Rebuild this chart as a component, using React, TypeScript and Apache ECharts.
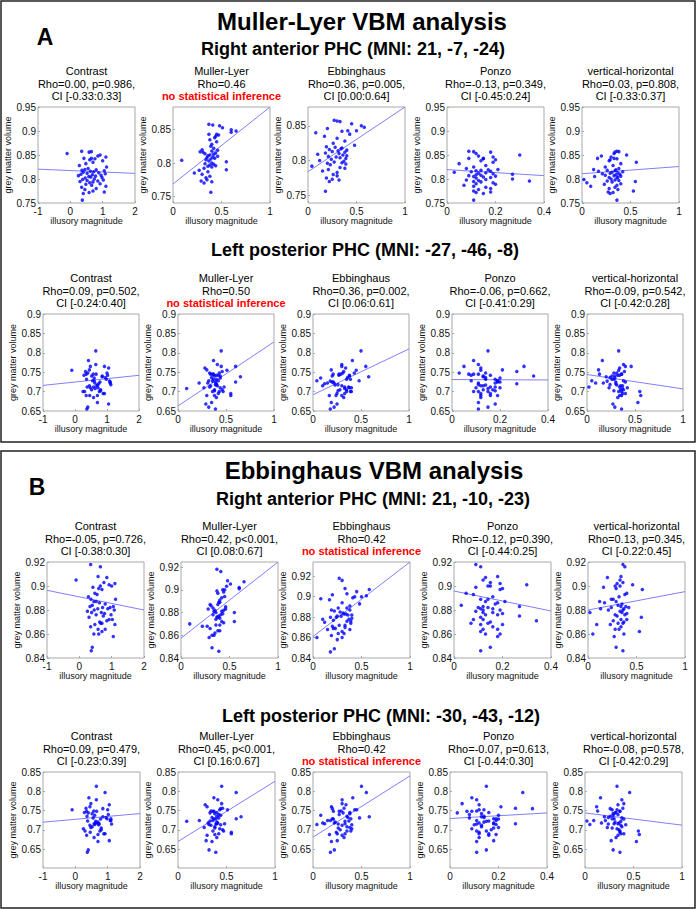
import React, { useEffect, useRef } from "react";
import * as echarts from "echarts";

// ---------- DATA ----------
const illusionNames = ["Contrast", "Muller-Lyer", "Ebbinghaus", "Ponzo", "vertical-horizontal"];

// illusory magnitude per subject, one array per illusion
const xContrast = [0.35, 0.65, 0.58, -0.10, 0.92, 0.85, 1.10, 0.42, 0.76, 0.60, 1.00, 0.70, 0.48, 0.28, 1.12, 0.55, 0.45, 0.80, 0.36, 1.05, 0.62, 0.72, 0.40, 0.88, 0.52, 1.08, 0.33, 0.68, 0.95, 0.25, 0.78, 0.57, 0.63, 0.98, 0.46, 0.74, 0.38, 1.02, 0.52, 0.85, 0.30, 0.70, 0.60, 0.92, 0.48, 0.66, 1.10, 0.35, 0.80, 0.45, 0.70, 1.05, 0.58, 0.40, 0.37, 0.65];
const xMullerLyer = [0.37, 0.41, 0.48, 0.51, 0.60, 0.65, 0.60, 0.37, 0.47, 0.44, 0.43, 0.38, 0.45, 0.40, 0.39, 0.42, 0.30, 0.46, 0.40, 0.28, 0.31, 0.44, 0.33, 0.42, 0.38, 0.36, 0.46, 0.41, 0.35, 0.43, 0.39, 0.34, 0.09, 0.37, 0.55, 0.40, 0.33, 0.42, 0.38, 0.44, 0.36, 0.40, 0.32, 0.55, 0.27, 0.36, 0.22, 0.30, 0.38, 0.34, 0.35, 0.29, 0.40, 0.32, 0.39, 0.45];
const xEbbinghaus = [0.27, 0.30, 0.33, 0.45, 0.55, 0.58, 0.20, 0.41, 0.35, 0.08, 0.43, 0.17, 0.30, 0.38, 0.26, 0.48, 0.19, 0.28, 0.35, 0.34, 0.22, 0.40, 0.31, 0.25, 0.38, 0.18, 0.32, 0.10, 0.36, 0.40, 0.21, 0.29, 0.33, 0.39, 0.24, 0.12, 0.37, 0.27, 0.35, 0.20, 0.39, 0.23, 0.04, 0.33, 0.38, 0.21, 0.15, 0.30, 0.26, 0.30, 0.19, 0.25, 0.32, 0.22, 0.18, 0.50];
const xPonzo = [0.09, 0.11, 0.18, 0.12, 0.30, 0.13, 0.19, 0.09, 0.15, 0.20, 0.14, 0.19, 0.05, 0.16, 0.11, 0.08, 0.21, 0.17, 0.14, 0.12, 0.18, 0.10, 0.03, 0.16, 0.13, 0.19, 0.27, 0.12, 0.14, 0.09, 0.20, 0.11, 0.15, 0.18, 0.12, 0.27, 0.16, 0.08, 0.13, 0.34, 0.11, 0.14, 0.19, 0.12, 0.20, 0.07, 0.11, 0.16, 0.18, 0.13, 0.11, 0.18, 0.12, 0.15, 0.11, 0.15];
const xVerticalHorizontal = [0.36, 0.38, 0.34, 0.33, 0.46, 0.20, 0.30, 0.16, 0.36, 0.29, 0.28, 0.56, 0.40, 0.32, 0.24, 0.38, 0.12, 0.35, 0.26, 0.34, 0.17, 0.42, 0.31, 0.37, 0.29, 0.21, 0.39, 0.35, 0.24, 0.33, 0.40, 0.13, 0.37, 0.28, 0.36, 0.30, 0.02, 0.34, 0.38, 0.26, 0.55, 0.31, 0.05, 0.40, 0.23, 0.36, 0.09, 0.34, 0.28, 0.37, 0.53, 0.27, 0.32, 0.29, 0.36, 0.33];

// grey matter volume per subject, one array per region
const yRightAnteriorA = [0.858, 0.857, 0.856, 0.853, 0.850, 0.848, 0.846, 0.843, 0.842, 0.840, 0.838, 0.835, 0.832, 0.828, 0.825, 0.822, 0.820, 0.819, 0.818, 0.817, 0.816, 0.815, 0.814, 0.813, 0.812, 0.811, 0.810, 0.809, 0.808, 0.807, 0.806, 0.805, 0.804, 0.803, 0.802, 0.800, 0.799, 0.798, 0.797, 0.796, 0.795, 0.794, 0.792, 0.790, 0.789, 0.787, 0.785, 0.783, 0.780, 0.778, 0.775, 0.773, 0.772, 0.770, 0.756, 0.843];
const yLeftPosteriorA = [0.745, 0.770, 0.712, 0.755, 0.765, 0.738, 0.725, 0.780, 0.700, 0.735, 0.748, 0.690, 0.765, 0.742, 0.718, 0.728, 0.756, 0.705, 0.732, 0.761, 0.722, 0.710, 0.748, 0.695, 0.740, 0.727, 0.752, 0.715, 0.736, 0.700, 0.725, 0.745, 0.708, 0.732, 0.690, 0.720, 0.712, 0.742, 0.705, 0.740, 0.700, 0.717, 0.728, 0.695, 0.710, 0.745, 0.722, 0.690, 0.702, 0.715, 0.672, 0.668, 0.685, 0.660, 0.655, 0.805];
const yRightAnteriorB = [0.918, 0.916, 0.908, 0.905, 0.901, 0.907, 0.902, 0.899, 0.903, 0.898, 0.900, 0.897, 0.894, 0.891, 0.889, 0.893, 0.887, 0.885, 0.889, 0.883, 0.886, 0.882, 0.884, 0.881, 0.887, 0.880, 0.883, 0.878, 0.882, 0.879, 0.877, 0.881, 0.870, 0.876, 0.880, 0.875, 0.878, 0.872, 0.876, 0.871, 0.874, 0.869, 0.860, 0.872, 0.868, 0.869, 0.868, 0.866, 0.864, 0.860, 0.862, 0.858, 0.864, 0.849, 0.846, 0.900];
const yLeftPosteriorB = [0.748, 0.778, 0.716, 0.752, 0.797, 0.734, 0.729, 0.783, 0.697, 0.738, 0.752, 0.688, 0.768, 0.745, 0.715, 0.731, 0.760, 0.700, 0.735, 0.765, 0.718, 0.713, 0.744, 0.690, 0.742, 0.724, 0.756, 0.718, 0.732, 0.703, 0.728, 0.749, 0.722, 0.729, 0.694, 0.716, 0.723, 0.740, 0.708, 0.755, 0.697, 0.720, 0.714, 0.690, 0.706, 0.748, 0.724, 0.686, 0.705, 0.712, 0.670, 0.672, 0.680, 0.648, 0.642, 0.813];

// axis ranges and tick labels
const xRanges = [[-1, 2], [0, 1], [0, 1], [0, 0.4], [0, 1]];
const xTickValues = [[-1, 0, 1, 2], [0, 0.5, 1], [0, 0.5, 1], [0, 0.2, 0.4], [0, 0.5, 1]];
const yRanges = [
  [[0.75, 0.95], [0.74, 0.884], [0.739, 0.877], [0.75, 0.95], [0.75, 0.95]],
  [[0.65, 0.9], [0.65, 0.9], [0.65, 0.9], [0.65, 0.9], [0.65, 0.9]],
  [[0.84, 0.92], [0.84, 0.9244], [0.84, 0.934], [0.84, 0.92], [0.84, 0.92]],
  [[0.601, 0.85], [0.601, 0.85], [0.601, 0.85], [0.601, 0.85], [0.601, 0.85]],
];
const yTicksWide = [0.75, 0.8, 0.85, 0.9, 0.95];
const yTicksNarrow = [0.75, 0.8, 0.85];
const yTicksLeftA = [0.65, 0.7, 0.75, 0.8, 0.85, 0.9];
const yTicksRightB = [0.84, 0.86, 0.88, 0.9, 0.92];
const yTicksLeftB = [0.65, 0.7, 0.75, 0.8, 0.85];
const yTickValues = [
  [yTicksWide, yTicksNarrow, yTicksNarrow, yTicksWide, yTicksWide],
  [yTicksLeftA, yTicksLeftA, yTicksLeftA, yTicksLeftA, yTicksLeftA],
  [yTicksRightB, yTicksRightB, yTicksRightB, yTicksRightB, yTicksRightB],
  [yTicksLeftB, yTicksLeftB, yTicksLeftB, yTicksLeftB, yTicksLeftB],
];

// fitted line: value at x-range start and end
const fitLineEnds = [
  [[0.8205, 0.8117], [0.7685, 0.884], [0.784, 0.877], [0.8195, 0.807], [0.811, 0.826]],
  [[0.716, 0.742], [0.663, 0.828], [0.692, 0.81], [0.731, 0.730], [0.744, 0.707]],
  [[0.8964, 0.880], [0.8574, 0.9244], [0.861, 0.934], [0.8958, 0.8792], [0.880, 0.8953]],
  [[0.7198, 0.7422], [0.6698, 0.8259], [0.681, 0.84], [0.7293, 0.7438], [0.7438, 0.7122]],
];

// statistics text (second line, third line; null third line = no inference)
const statsText = [
  [["Rho=0.00, p=0.986,", "CI [-0.33:0.33]"], ["Rho=0.46", null], ["Rho=0.36, p=0.005,", "CI [0.00:0.64]"], ["Rho=-0.13, p=0.349,", "CI [-0.45:0.24]"], ["Rho=0.03, p=0.808,", "CI [-0.33:0.37]"]],
  [["Rho=0.09, p=0.502,", "CI [-0.24:0.40]"], ["Rho=0.50", null], ["Rho=0.36, p=0.002,", "CI [0.06:0.61]"], ["Rho=-0.06, p=0.662,", "CI [-0.41:0.29]"], ["Rho=-0.09, p=0.542,", "CI [-0.42:0.28]"]],
  [["Rho=-0.05, p=0.726,", "CI [-0.38:0.30]"], ["Rho=0.42, p<0.001,", "CI [0.08:0.67]"], ["Rho=0.42", null], ["Rho=-0.12, p=0.390,", "CI [-0.44:0.25]"], ["Rho=0.13, p=0.345,", "CI [-0.22:0.45]"]],
  [["Rho=0.09, p=0.479,", "CI [-0.23:0.39]"], ["Rho=0.45, p<0.001,", "CI [0.16:0.67]"], ["Rho=0.42", null], ["Rho=-0.07, p=0.613,", "CI [-0.44:0.30]"], ["Rho=-0.08, p=0.578,", "CI [-0.42:0.29]"]],
];

const panelLetters = ["A", "B"];
const panelTitles = ["Muller-Lyer VBM analysis", "Ebbinghaus VBM analysis"];
const regionTitles = [
  "Right anterior PHC (MNI: 21, -7, -24)",
  "Left posterior PHC (MNI: -27, -46, -8)",
  "Right anterior PHC (MNI: 21, -10, -23)",
  "Left posterior PHC (MNI: -30, -43, -12)",
];
const noInferenceText = "no statistical inference";
const xAxisName = "illusory magnitude";
const yAxisName = "grey matter volume";

// ---------- LAYOUT ----------
const FONT = "'Liberation Sans', Arial, Helvetica, sans-serif";
const rowLayout = [
  { top: 107, height: 96, width: 97, lefts: [38, 173, 308, 447, 582] },
  { top: 314, height: 97, width: 96, lefts: [43, 178, 313, 452, 587] },
  { top: 562, height: 96, width: 97, lefts: [47, 181, 313, 454, 588] },
  { top: 772, height: 96, width: 97, lefts: [43, 178, 313, 450, 585] },
];
const regionTitlePos = [[353, 49], [365, 250], [373, 499], [381, 716]];
const panelTitlePos = [[362, 21], [374, 470]];
const panelLetterPos = [[45, 37], [37, 487]];
const panelRects = [[1, 1, 694, 441], [1, 451, 694, 457]];

function buildOption() {
  const xSets = [xContrast, xMullerLyer, xEbbinghaus, xPonzo, xVerticalHorizontal];
  const ySets = [yRightAnteriorA, yLeftPosteriorA, yRightAnteriorB, yLeftPosteriorB];
  const grids: any[] = [];
  const xAxes: any[] = [];
  const yAxes: any[] = [];
  const series: any[] = [];
  const graphics: any[] = [];

  panelRects.forEach((r) => {
    graphics.push({
      type: "rect",
      shape: { x: r[0], y: r[1], width: r[2], height: r[3] },
      style: { fill: "none", stroke: "#222", lineWidth: 1.5 },
      silent: true,
    });
  });
  panelLetters.forEach((t, i) => {
    graphics.push({
      type: "text", x: panelLetterPos[i][0], y: panelLetterPos[i][1],
      style: { text: t, fontSize: 23, fontWeight: "bold", fontFamily: FONT, fill: "#000", align: "center", verticalAlign: "middle" },
    });
    graphics.push({
      type: "text", x: panelTitlePos[i][0], y: panelTitlePos[i][1],
      style: { text: panelTitles[i], fontSize: 24, fontWeight: "bold", fontFamily: FONT, fill: "#000", align: "center", verticalAlign: "middle" },
    });
  });
  regionTitles.forEach((t, i) => {
    graphics.push({
      type: "text", x: regionTitlePos[i][0], y: regionTitlePos[i][1],
      style: { text: t, fontSize: 18, fontWeight: "bold", fontFamily: FONT, fill: "#000", align: "center", verticalAlign: "middle" },
    });
  });

  let idx = 0;
  for (let r = 0; r < 4; r++) {
    const L = rowLayout[r];
    for (let c = 0; c < 5; c++) {
      const left = L.lefts[c];
      grids.push({
        left, top: L.top, width: L.width, height: L.height,
        show: true, borderColor: "#a8a8a8", borderWidth: 1, backgroundColor: "#fff",
        containLabel: false,
      });
      const xt = xTickValues[c];
      const yt = yTickValues[r][c];
      xAxes.push({
        type: "value", gridIndex: idx, min: xRanges[c][0], max: xRanges[c][1],
        position: "bottom",
        axisLine: { show: false, onZero: false },
        axisTick: { show: true, inside: true, length: 2, customValues: xt, lineStyle: { color: "#a8a8a8" } },
        axisLabel: { customValues: xt, fontSize: 10, fontFamily: FONT, color: "#111", margin: 3 },
        splitLine: { show: false },
        name: xAxisName, nameLocation: "middle", nameGap: 13.5,
        nameTextStyle: { fontSize: 9, fontFamily: FONT, color: "#111" },
      });
      yAxes.push({
        type: "value", gridIndex: idx, min: yRanges[r][c][0], max: yRanges[r][c][1],
        position: "left",
        axisLine: { show: false, onZero: false },
        axisTick: { show: true, inside: true, length: 2, customValues: yt, lineStyle: { color: "#a8a8a8" } },
        axisLabel: { customValues: yt, fontSize: 10, fontFamily: FONT, color: "#111", margin: 2 },
        splitLine: { show: false },
        name: yAxisName, nameLocation: "middle", nameGap: 21,
        nameTextStyle: { fontSize: 9, fontFamily: FONT, color: "#111" },
      });
      const xs = xSets[c];
      const ys = ySets[r];
      const pts: number[][] = [];
      for (let k = 0; k < Math.min(xs.length, ys.length); k++) pts.push([xs[k], ys[k]]);
      series.push({
        type: "scatter", xAxisIndex: idx, yAxisIndex: idx, data: pts,
        symbol: "circle", symbolSize: 3.5, itemStyle: { color: "#0000ff" }, silent: true,
      });
      const fe = fitLineEnds[r][c];
      series.push({
        type: "line", xAxisIndex: idx, yAxisIndex: idx,
        data: [[xRanges[c][0], fe[0]], [xRanges[c][1], fe[1]]],
        showSymbol: false, symbol: "none", lineStyle: { color: "#7f7fff", width: 1 }, clip: true, silent: true,
        z: 1,
      });

      // subplot titles
      const cx = left + L.width / 2;
      const st = statsText[r][c];
      const lines: [string, boolean][] = [[illusionNames[c], false], [st[0] as string, false]];
      lines.push(st[1] === null ? [noInferenceText, true] : [st[1] as string, false]);
      const offs = [-36, -23.5, -11.5];
      lines.forEach((ln, j) => {
        graphics.push({
          type: "text", x: cx, y: L.top + offs[j],
          style: {
            text: ln[0], fontSize: 11, fontFamily: FONT,
            fontWeight: ln[1] ? "bold" : "normal",
            fill: ln[1] ? "#ff0000" : "#000",
            align: "center", verticalAlign: "middle",
          },
        });
      });
      idx++;
    }
  }

  return {
    animation: false,
    backgroundColor: "#fff",
    textStyle: { fontFamily: FONT },
    grid: grids,
    xAxis: xAxes,
    yAxis: yAxes,
    series,
    graphic: { elements: graphics },
  };
}

export default function App() {
  const ref = useRef<HTMLDivElement>(null);
  useEffect(() => {
    if (!ref.current) return;
    const chart = echarts.init(ref.current, undefined, { renderer: "svg" });
    chart.setOption(buildOption() as any);
    return () => chart.dispose();
  }, []);
  return (
    <div
      ref={ref}
      style={{ position: "absolute", left: 0, top: 0, width: 700, height: 909, background: "#fff" }}
    />
  );
}
